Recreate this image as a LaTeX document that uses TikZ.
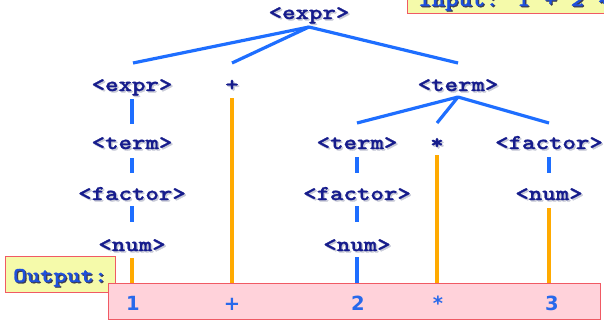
\documentclass[tikz,border=0pt]{standalone}
\usepackage{fontspec}
\newfontfamily\codefont{lmmonolt10-bold}[Extension=.otf, FakeStretch=1.22, FakeBold=1.3]
\newfontfamily\digitfont{DejaVu Sans}
\usetikzlibrary{calc}
\definecolor{navy}{RGB}{22,28,140}
\definecolor{shadowgray}{RGB}{200,202,215}
\definecolor{lineblue}{RGB}{30,110,255}
\definecolor{leaforange}{RGB}{255,170,0}
\definecolor{digitblue}{RGB}{40,105,235}
\definecolor{labelblue}{RGB}{30,80,220}
\definecolor{labelshadow}{RGB}{60,60,80}
\definecolor{pinkfill}{RGB}{255,210,218}
\definecolor{yellowfill}{RGB}{245,250,170}
\definecolor{boxred}{RGB}{240,90,100}

% a tree label with a soft drop shadow behind it
\newcommand\treelbl[3]{%
  \node[treeshadow, xshift=1.5pt, yshift=-1.5pt] at (#2) {#3};
  \node[tree] (#1) at (#2) {#3};}

\begin{document}
\begin{tikzpicture}[x=1pt,y=-1pt,
  tree/.style={font=\codefont\fontsize{21}{25}\selectfont,
               text=navy, inner sep=0pt, anchor=base},
  treeshadow/.style={tree, text=shadowgray},
  edge/.style={draw=lineblue, line width=3.2pt},
  leaf/.style={draw=leaforange, line width=3.2pt},
  tokenbox/.style={draw=boxred, fill=pinkfill, line width=1.2pt,
                   inner sep=0pt, anchor=north west},
  notebox/.style={draw=boxred, fill=yellowfill, line width=1.2pt,
                  inner sep=0pt, anchor=north west},
  notetext/.style={font=\codefont\fontsize{21}{25}\selectfont,
                   text=labelblue, inner sep=0pt, anchor=base west},
  noteshadow/.style={notetext, text=labelshadow},
  token/.style={font=\digitfont\bfseries\fontsize{19.5}{24}\selectfont,
                text=digitblue, inner sep=0pt, anchor=base}]
\useasboundingbox (0,0) rectangle (604,322);
\clip (0,0) rectangle (604,322);

% input note, top right
\node[notebox, minimum width=240pt, minimum height=43pt] (inbox) at (407,-30) {};
\node[noteshadow, xshift=1.2pt, yshift=-1.2pt] at (418,6) {Input: 1 + 2 * 3};
\node[notetext] (intext) at (418,6) {Input: 1 + 2 * 3};

% parse tree labels
\treelbl{root}{309,19}{<expr>}
\treelbl{e1}{132,91}{<expr>}
\treelbl{plus}{232,91}{+}
\treelbl{t1}{458,91}{<term>}
\treelbl{t2}{132,149}{<term>}
\treelbl{t3}{357,149}{<term>}
\treelbl{star}{437,149}{*}
\treelbl{f3}{549,149}{<factor>}
\treelbl{f2}{132,200}{<factor>}
\treelbl{f4}{357,200}{<factor>}
\treelbl{n4}{549,200}{<num>}
\treelbl{n2}{132,251}{<num>}
\treelbl{n5}{357,251}{<num>}

% branches
\draw[edge] ($(root.base)+(0,8)$) -- ($(e1.base)+(1,-28)$);
\draw[edge] ($(root.base)+(0,8)$) -- ($(plus.base)+(0,-28)$);
\draw[edge] ($(root.base)+(0,8)$) -- ($(t1.base)+(0,-28)$);
\draw[edge] ($(t1.base)+(0,6)$) -- ($(t3.base)+(0,-26)$);
\draw[edge] ($(t1.base)+(0,6)$) -- ($(star.base)+(0,-26)$);
\draw[edge] ($(t1.base)+(0,6)$) -- ($(f3.base)+(0,-26)$);
\draw[edge] ($(e1.base)+(0,8)$) -- ($(t2.base)+(0,-25)$);
\draw[edge] ($(t2.base)+(0,9)$) -- ($(f2.base)+(0,-27)$);
\draw[edge] ($(f2.base)+(0,6)$) -- ($(n2.base)+(0,-29)$);
\draw[edge] ($(t3.base)+(0,8)$) -- ($(f4.base)+(0,-27)$);
\draw[edge] ($(f4.base)+(0,6)$) -- ($(n5.base)+(0,-29)$);
\draw[edge] ($(f3.base)+(0,8)$) -- ($(n4.base)+(0,-27)$);

% output label
\node[notebox, minimum width=110pt, minimum height=36pt] (outlbl) at (5,256) {};
\node[noteshadow, xshift=1.2pt, yshift=-1.2pt] at (13,282) {Output:};
\node[notetext] (outtext) at (13,282) {Output:};

% token strip
\node[tokenbox, minimum width=492pt, minimum height=36pt] (outbox) at (108,283) {};
\node[token] (tk1) at (133,310) {1};
\node[token] (tk2) at (232,310) {+};
\node[token] (tk3) at (358,310) {2};
\node[token] (tk4) at (438,310) {*};
\node[token] (tk5) at (552,310) {3};

% links from leaves to tokens
\draw[leaf] ($(plus.base)+(0,7)$) -- (plus.base |- outbox.north);
\draw[leaf] ($(star.base)+(0,6)$) -- (star.base |- outbox.north);
\draw[leaf] ($(n4.base)+(0,8)$) -- (n4.base |- outbox.north);
\draw[leaf] ($(n2.base)+(0,7)$) -- (n2.base |- outbox.north);
\draw[edge] ($(n5.base)+(0,6)$) -- (n5.base |- outbox.north);
\end{tikzpicture}
\end{document}
